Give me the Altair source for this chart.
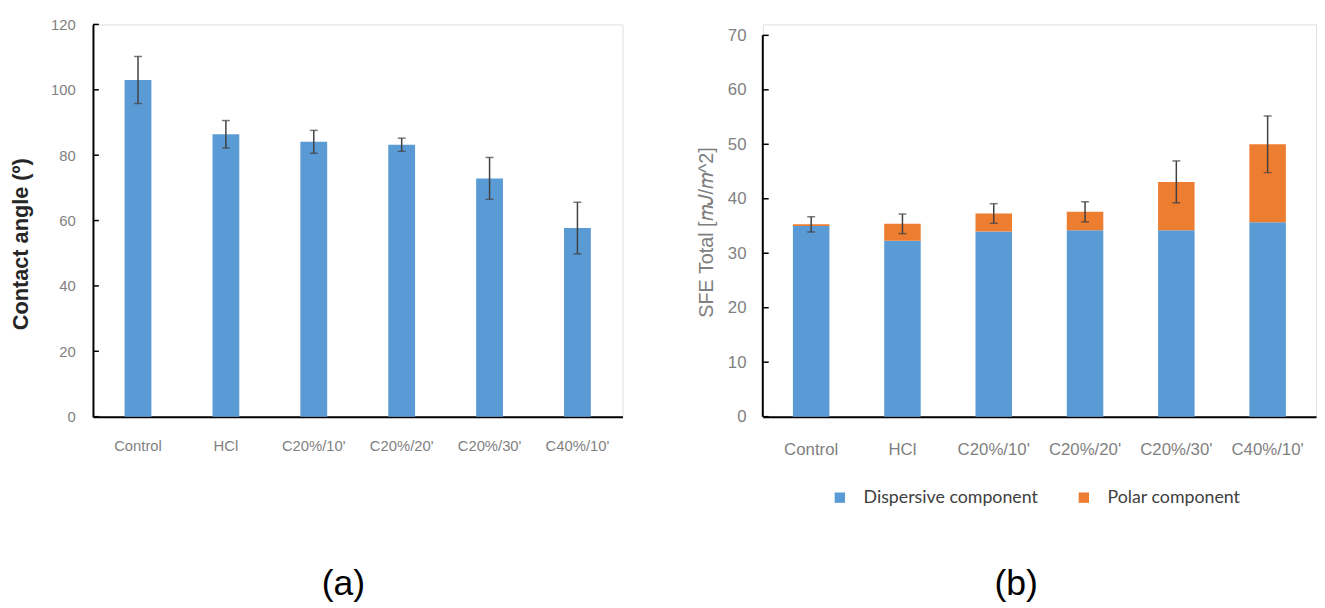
import altair as alt
import pandas as pd

# ---- data ----
categories = ["Control", "HCl", "C20%/10'", "C20%/20'", "C20%/30'", "C40%/10'"]
contact_angle = [103.0, 86.4, 84.1, 83.2, 72.9, 57.7]
contact_err = [7.2, 4.2, 3.5, 2.0, 6.4, 7.9]

dispersive = [35.0, 32.3, 34.0, 34.2, 34.2, 35.7]
polar = [0.3, 3.1, 3.3, 3.4, 8.9, 14.3]
sfe_err = [1.4, 1.8, 1.8, 1.85, 3.85, 5.2]

series_names = ["Dispersive component", "Polar component"]
series_colors = ["#5b9bd5", "#ed7d31"]

yticks_a = [0, 20, 40, 60, 80, 100, 120]
yticks_b = [0, 10, 20, 30, 40, 50, 60, 70]

FONT = "Lato"
GRAY = "#7f7f7f"
ERR = "#404040"

# ---- panel (a) ----
df_a = pd.DataFrame({"cat": categories, "val": contact_angle, "err": contact_err})

x_a = alt.X(
    "cat:N", sort=categories,
    scale=alt.Scale(paddingInner=0.695, paddingOuter=0.36),
    axis=alt.Axis(
        title="(a)", titleX=253, titleY=169, titleFontSize=36, titleFontWeight="normal",
        titleColor="black", titleAlign="center", titleBaseline="middle",
        labelAngle=0, labelFontSize=15, labelColor=GRAY, labelPadding=22,
        ticks=False, domainColor="black", domainWidth=2,
    ),
)
y_a = alt.Y(
    "val:Q", scale=alt.Scale(domain=[0, 120], nice=False),
    axis=alt.Axis(
        values=yticks_a, ticks=False, grid=False, labelPadding=18, labelFontSize=15,
        labelColor=GRAY, domainColor="black", domainWidth=2, labelFlush=False,
        title="Contact angle (º)", titleFontSize=22, titleFontWeight="bold", titleColor="#262626",
        titleX=-73, titleY=222, titleAngle=270, titleAlign="center", titleBaseline="middle",
    ),
)

base_a = alt.Chart(df_a)
bars_a = base_a.mark_bar(color=series_colors[0]).encode(x=x_a, y=y_a)
err_a = base_a.transform_calculate(
    lo="datum.val - datum.err", hi="datum.val + datum.err"
).mark_rule(color=ERR, strokeWidth=1.5).encode(x=alt.X("cat:N", sort=categories), y="lo:Q", y2="hi:Q")
caps_a = base_a.transform_calculate(
    lo="datum.val - datum.err", hi="datum.val + datum.err"
).transform_fold(["lo", "hi"], as_=["k", "v"]).mark_tick(
    color=ERR, thickness=1.5, size=8, orient="horizontal"
).encode(x=alt.X("cat:N", sort=categories), y="v:Q")
ticks_a = alt.Chart(pd.DataFrame({"v": yticks_a})).mark_rule(color="black", strokeWidth=1.5).encode(
    y="v:Q", x=alt.value(0), x2=alt.value(6)
)
chart_a = alt.layer(bars_a, err_a, caps_a, ticks_a).properties(width=536, height=397)

# ---- panel (b) ----
rows = []
for i, c in enumerate(categories):
    rows.append({"cat": c, "series": series_names[0], "value": dispersive[i], "ord": 0})
    rows.append({"cat": c, "series": series_names[1], "value": polar[i], "ord": 1})
df_b = pd.DataFrame(rows)
df_bw = pd.DataFrame({"cat": categories, "disp": dispersive, "pol": polar, "err": sfe_err})

x_b = alt.X(
    "cat:N", sort=categories,
    scale=alt.Scale(paddingInner=0.6, paddingOuter=0.33),
    axis=alt.Axis(
        title="(b)", titleX=256, titleY=169, titleFontSize=36, titleFontWeight="normal",
        titleColor="black", titleAlign="center", titleBaseline="middle",
        labelAngle=0, labelFontSize=17, labelColor=GRAY, labelPadding=25,
        ticks=False, domainColor="black", domainWidth=2,
    ),
)
y_b = alt.Y(
    "value:Q", stack="zero", scale=alt.Scale(domain=[0, 72], nice=False),
    axis=alt.Axis(
        values=yticks_b, ticks=False, grid=False, labelPadding=17, labelFontSize=17,
        labelColor=GRAY, domain=False, labelFlush=False,
        title="SFE Total [𝑚𝐽/𝑚^2]", titleFontSize=20, titleFontWeight="normal", titleColor=GRAY,
        titleX=-57, titleY=210, titleAngle=270, titleAlign="center", titleBaseline="middle",
    ),
)
bars_b = alt.Chart(df_b).mark_bar().encode(
    x=x_b, y=y_b,
    color=alt.Color(
        "series:N", sort=series_names,
        scale=alt.Scale(domain=series_names, range=series_colors),
        legend=alt.Legend(
            title=None, orient="none", direction="horizontal", legendX=747, legendY=470,
            symbolType="square", symbolSize=110, symbolStrokeWidth=0, labelFontSize=18,
            labelColor="#404040", labelFont=FONT, labelOffset=15, columnPadding=37, padding=0,
            labelLimit=400,
        ),
    ),
    order=alt.Order("ord:Q"),
)
base_bw = alt.Chart(df_bw).transform_calculate(
    total="datum.disp + datum.pol"
).transform_calculate(lo="datum.total - datum.err", hi="datum.total + datum.err")
err_b = base_bw.mark_rule(color=ERR, strokeWidth=1.5).encode(
    x=alt.X("cat:N", sort=categories), y="lo:Q", y2="hi:Q"
)
caps_b = base_bw.transform_fold(["lo", "hi"], as_=["k", "v"]).mark_tick(
    color=ERR, thickness=1.5, size=8, orient="horizontal"
).encode(x=alt.X("cat:N", sort=categories), y="v:Q")
ticks_b = alt.Chart(pd.DataFrame({"v": yticks_b})).mark_rule(color="black", strokeWidth=1.5).encode(
    y="v:Q", x=alt.value(0), x2=alt.value(6)
)
axis_line_b = alt.Chart(pd.DataFrame({"a": [yticks_b[0]], "b": [yticks_b[-1]]})).mark_rule(
    color="black", strokeWidth=2
).encode(x=alt.value(0), y="a:Q", y2="b:Q")
chart_b = alt.layer(bars_b, err_b, caps_b, ticks_b, axis_line_b).properties(width=560, height=397)

chart = alt.hconcat(chart_a, chart_b, spacing=73).properties(
    padding={"left": 1, "top": 5, "right": 0, "bottom": 0}
).configure_view(stroke=None).configure_axis(labelFont=FONT, titleFont=FONT).configure(
    background="white"
)

chart.save("out.html", embed_options={"renderer": "svg", "actions": False})
